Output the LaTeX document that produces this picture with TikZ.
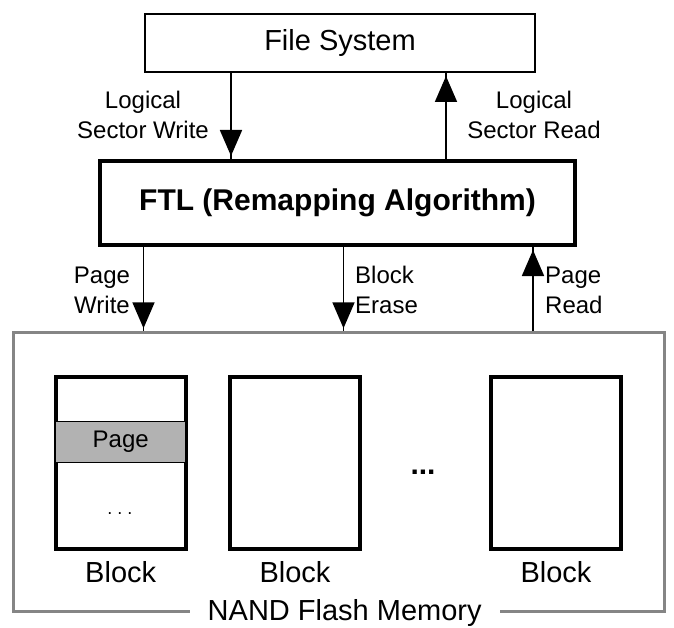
\documentclass[tikz,border=0pt]{standalone}
\usepackage{fontspec}
\setmainfont{Liberation Sans}
\usetikzlibrary{arrows.meta, positioning, calc, decorations.markings}

\begin{document}
\begin{tikzpicture}[x=1pt, y=-1pt,
  flow/.style={line width=1.8pt, postaction={decorate},
    decoration={markings, mark=at position -3pt with {\arrow{Triangle[length=26pt,width=22pt]}}}},
  lbl/.style={font=\fontsize{24}{30}\selectfont, align=center, inner sep=0pt},
  blk/.style={draw, line width=4pt, minimum width=130pt, minimum height=172pt, inner sep=0pt},
  big/.style={font=\fontsize{29}{34}\selectfont}]
\useasboundingbox (0,0) rectangle (674,628);

\node[draw, line width=2pt, minimum width=390pt, minimum height=58pt, big] (fs) at (340,43) {File System};
\node[draw, line width=4pt, minimum width=475pt, minimum height=84pt, font={\fontsize{30}{34}\selectfont\bfseries}] (ftl) at (337.5,203) {FTL (Remapping Algorithm)};
\node[draw, line width=3pt, color=black!48, minimum width=651pt, minimum height=279pt] (nand) at (338.7,472.3) {};
\node[big, fill=white, inner xsep=18pt, inner ysep=0pt] (nandlbl) at ([xshift=6pt]nand.south) {NAND Flash Memory};

\node[blk] (b1) at (120.7,463.3) {};
\node[draw, line width=1.5pt, fill=black!30, minimum width=130pt, minimum height=41pt, font=\fontsize{24}{28}\selectfont] (page) at (120.7,442) {Page};
\node[font=\fontsize{18}{20}\selectfont, inner sep=0pt] (pdots) at (120,514) {.\ .\ .};
\node[blk] (b2) at (295,463.3) {};
\node[blk] (b3) at (556,463.3) {};
\node[font=\fontsize{30}{32}\selectfont\bfseries, inner sep=0pt] (bdots) at (423,472) {...};
\foreach \b in {b1,b2,b3}
  \node[big, inner sep=0pt, below=10pt of \b] {Block};

\node[lbl] (lsw) at (143,115) {Logical\\Sector Write};
\node[lbl] (lsr) at (534,115) {Logical\\Sector Read};
\node[lbl] (pwl) at (102,290) {Page\\Write};
\node[lbl, align=left, anchor=west] (bel) at (355,290) {Block\\Erase};
\node[lbl, align=left, anchor=west] (prl) at (545,290) {Page\\Read};

\coordinate (w) at ([xshift=-109pt]fs.south);
\coordinate (r) at ([xshift=106pt]fs.south);
\coordinate (pw) at ([xshift=-194pt]ftl.south);
\coordinate (be) at ([xshift=6pt]ftl.south);
\coordinate (pr) at ([xshift=195.5pt]ftl.south);
\draw[flow] (w) -- (w |- ftl.north);
\draw[flow] (r |- ftl.north) -- (r);
\draw[flow] (pw) -- (pw |- nand.north);
\draw[flow] (be) -- (be |- nand.north);
\draw[flow] (pr |- nand.north) -- (pr);
\end{tikzpicture}
\end{document}
